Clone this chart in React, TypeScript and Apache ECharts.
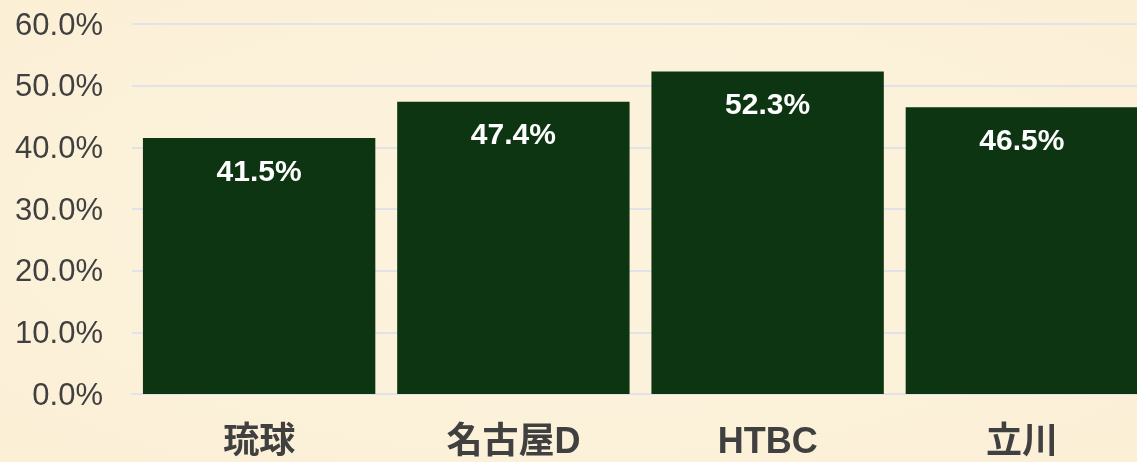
import React, { useEffect, useRef } from "react";
import * as echarts from "echarts";

const categories = ["琉球", "名古屋D", "HTBC", "立川"];
const values = [41.5, 47.4, 52.3, 46.5];
const yMin = 0;
const yMax = 60;
const yInterval = 10;

export default function App() {
  const ref = useRef<HTMLDivElement>(null);
  useEffect(() => {
    if (!ref.current) return;
    const chart = echarts.init(ref.current, null, { renderer: "svg" });
    chart.setOption({
      animation: false,
      backgroundColor: {
        type: "radial",
        x: 0.5,
        y: 0.5,
        r: 0.8,
        colorStops: [
          { offset: 0, color: "#fdf3de" },
          { offset: 1, color: "#fbefd5" },
        ],
      },
      grid: { left: 132, right: 0, top: 24, bottom: 68, containLabel: false },
      xAxis: {
        type: "category",
        data: categories,
        axisLine: { show: true, lineStyle: { color: "#e2e3e8", width: 2 } },
        axisTick: { show: false },
        axisLabel: {
          color: "#404040",
          fontSize: 36,
          fontWeight: "bold",
          fontFamily: "'Liberation Sans', 'Noto Sans CJK JP', sans-serif",
          margin: 28,
        },
      },
      yAxis: {
        type: "value",
        min: yMin,
        max: yMax,
        interval: yInterval,
        axisLine: { show: false },
        axisTick: { show: false },
        splitLine: { lineStyle: { color: "#e2e3e8", width: 2 } },
        axisLabel: {
          color: "#404040",
          fontSize: 31,
          fontFamily: "'Liberation Sans', Arial, sans-serif",
          margin: 29,
          formatter: (v: number) => v.toFixed(1) + "%",
        },
      },
      series: [
        {
          type: "bar",
          data: values,
          barCategoryGap: "8.6%",
          itemStyle: { color: "#0d3512" },
          label: {
            show: true,
            position: "insideTop",
            distance: 17,
            color: "#ffffff",
            fontSize: 30,
            fontWeight: "bold",
            fontFamily: "'Liberation Sans', Arial, sans-serif",
            formatter: (p: any) => p.value.toFixed(1) + "%",
          },
        },
      ],
    });
    return () => chart.dispose();
  }, []);
  return (
    <div
      ref={ref}
      style={{ position: "fixed", left: 0, top: 0, width: 1149, height: 462 }}
    />
  );
}
